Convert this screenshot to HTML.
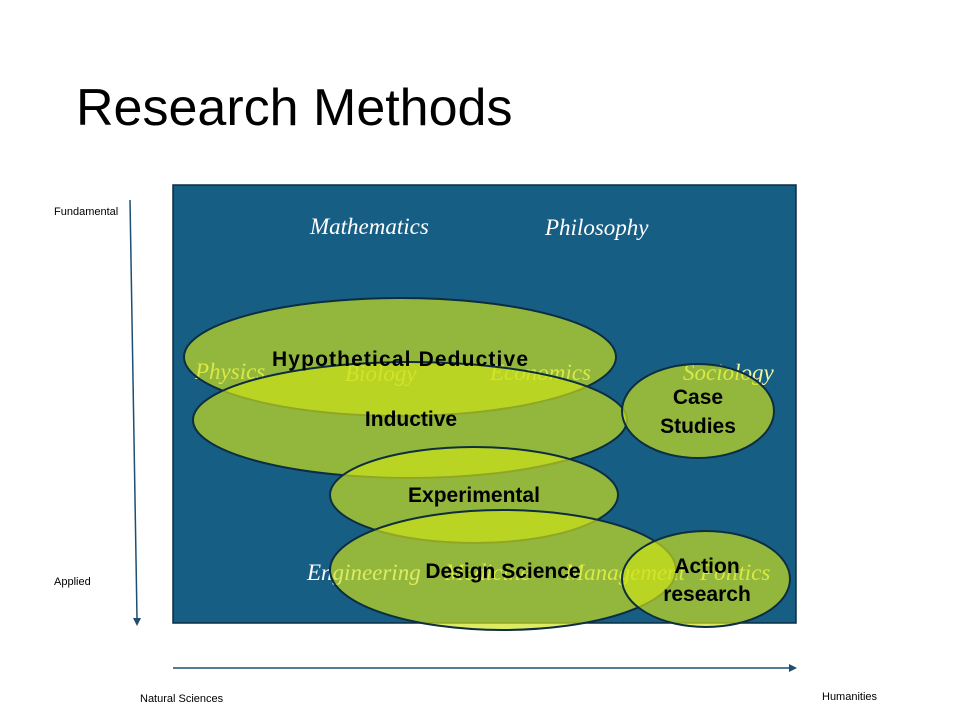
<!DOCTYPE html>
<html><head><meta charset="utf-8"><style>
body{margin:0;width:960px;height:720px;background:#fff;overflow:hidden;font-family:"Liberation Sans",sans-serif}
</style></head><body>
<svg width="960" height="720" xmlns="http://www.w3.org/2000/svg" style="position:absolute;left:0;top:0">
<text x="76" y="125" font-size="52" font-family="Liberation Sans" fill="#000">Research Methods</text>
<rect x="173" y="185" width="623" height="438" fill="#175e85" stroke="#0d2d40" stroke-width="1.5"/>
<g font-family="Liberation Serif" font-style="italic" font-size="23">
<text x="310" y="234" fill="#fff">Mathematics</text>
<text x="545" y="235" fill="#fff">Philosophy</text>
<text x="195" y="379" fill="#f4f7a0">Physics</text>
<text x="345" y="381" fill="#f4f7a0">Biology</text>
<text x="490" y="380" fill="#f4f7a0">Economics</text>
<text x="683" y="380" fill="#f4f7a0">Sociology</text>
<text x="307" y="580" fill="#fff">Engineering</text>
<text x="445" y="580" fill="#f4f7a0">Medicine</text>
<text x="565" y="580" fill="#f4f7a0">Management</text>
<text x="700" y="580" fill="#f4f7a0">Politics</text>
</g>
<g fill="rgb(205,225,25)" fill-opacity="0.68" stroke="#0d2d40" stroke-width="2">
<ellipse cx="400" cy="357" rx="216" ry="59"/>
<ellipse cx="410" cy="420" rx="217" ry="58"/>
<ellipse cx="698" cy="411" rx="76" ry="47"/>
<ellipse cx="474" cy="495" rx="144" ry="48"/>
<ellipse cx="503" cy="570" rx="173" ry="60"/>
<ellipse cx="706" cy="579" rx="84" ry="48"/>
</g>
<g font-family="Liberation Sans" font-weight="bold" font-size="21" fill="#000" text-anchor="middle">
<text x="400" y="366" textLength="256">Hypothetical Deductive</text>
<text x="411" y="426">Inductive</text>
<text x="698" y="404">Case</text>
<text x="698" y="433">Studies</text>
<text x="474" y="502">Experimental</text>
<text x="503" y="578">Design Science</text>
<text x="707" y="573">Action</text>
<text x="707" y="601">research</text>
</g>
<line x1="130" y1="200" x2="137" y2="618" stroke="#1d4e73" stroke-width="1.5"/>
<polygon points="133,618 141,618 137,626" fill="#1d4e73"/>
<line x1="173" y1="668" x2="790" y2="668" stroke="#1d4e73" stroke-width="1.5"/>
<polygon points="789,664 797,668 789,672" fill="#1d4e73"/>
<g font-family="Liberation Sans" font-size="11" fill="#000">
<text x="54" y="215">Fundamental</text>
<text x="54" y="585">Applied</text>
<text x="140" y="702">Natural Sciences</text>
<text x="822" y="700">Humanities</text>
</g>
</svg>
</body></html>
